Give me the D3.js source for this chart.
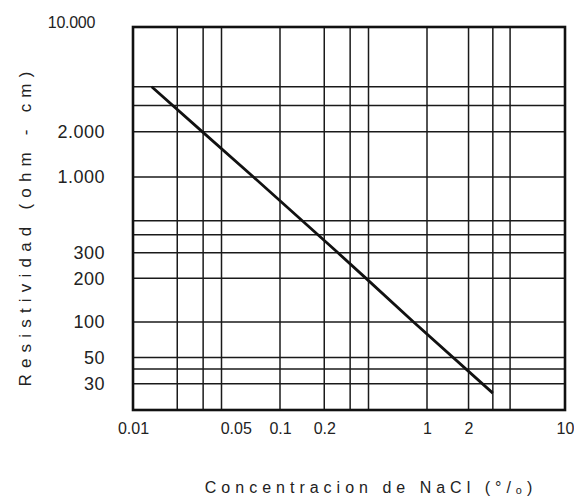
<!DOCTYPE html>
<html><head><meta charset="utf-8">
<script src="https://cdn.jsdelivr.net/npm/d3@7"></script>
<style>body{margin:0;background:#fff}svg{display:block;font-family:"Liberation Sans",Arial,sans-serif}</style>
</head><body><svg id="c" width="574" height="500"></svg>
<script>
// Data
const xGrid = [0.02, 0.03, 0.04, 0.1, 0.2, 0.3, 0.4, 1, 2, 3, 4];
const yGrid = [30, 40, 50, 100, 200, 300, 400, 500, 1000, 2000, 3000, 4000];
const xTickValues = [0.01, 0.05, 0.1, 0.2, 1, 2, 10];
const xTickLabels = ["0.01", "0.05", "0.1", "0.2", "1", "2", "10"];
const yTickValues = [30, 50, 100, 200, 300, 1000, 2000, 10000];
const yTickLabels = ["30", "50", "100", "200", "300", "1.000", "2.000", "10.000"];
const concentration = [0.0134, 0.0297, 0.066, 0.248, 0.385, 0.81, 3.0];
const resistivity = [4000, 2000, 1000, 300, 200, 100, 25];

const svg = d3.select("#c");
// hand-drawn log paper: piecewise log scales calibrated per decade
const x = d3.scaleLog().domain([0.01, 0.1, 1, 10]).range([133, 280, 427, 565]);
const y = d3.scaleLog().domain([18, 100, 1000, 10000]).range([410, 322, 177, 27]);
const [x0, x1] = [x(0.01), x(10)];
const [y0, y1] = [y(18), y(10000)];

svg.append("rect").attr("width", 574).attr("height", 500).attr("fill", "#fff");

const g = svg.append("g").attr("stroke", "#1a1a1a").attr("stroke-width", 1.5);
g.selectAll(".vx").data(xGrid).join("line")
  .attr("x1", d => x(d)).attr("x2", d => x(d)).attr("y1", y0).attr("y2", y1);
g.selectAll(".hy").data(yGrid).join("line")
  .attr("y1", d => y(d)).attr("y2", d => y(d)).attr("x1", x0).attr("x2", x1);

svg.append("rect").attr("x", x0).attr("y", y1).attr("width", x1 - x0).attr("height", y0 - y1)
  .attr("fill", "none").attr("stroke", "#111").attr("stroke-width", 2.6);

// curve
const pts = concentration.map((c, i) => [c, resistivity[i]]);
svg.append("path").datum(pts)
  .attr("d", d3.line().x(d => x(d[0])).y(d => y(d[1])))
  .attr("fill", "none").attr("stroke", "#111").attr("stroke-width", 2.8);

// axes labels
const ax = svg.append("g").attr("transform", `translate(0,${y0})`)
  .call(d3.axisBottom(x).tickValues(xTickValues).tickSize(0).tickPadding(13)
    .tickFormat((d, i) => xTickLabels[i]));
ax.select(".domain").remove();
ax.selectAll("text").attr("font-size", 16).attr("fill", "#222").attr("font-family", "Liberation Sans, Arial, sans-serif");

const ay = svg.append("g").attr("transform", `translate(${x0},0)`)
  .call(d3.axisLeft(y).tickValues(yTickValues).tickSize(0).tickPadding(28)
    .tickFormat((d, i) => yTickLabels[i]));
ay.select(".domain").remove();
ay.selectAll("text").attr("font-size", 18).attr("fill", "#222").attr("font-family", "Liberation Sans, Arial, sans-serif")
  .attr("letter-spacing", 0.5);
ay.selectAll(".tick").filter(d => d === 10000).select("text")
  .attr("font-size", 16).attr("letter-spacing", -0.3).attr("dx", -10).attr("dy", "0.05em");

svg.append("text").attr("x", 371).attr("y", 493).attr("text-anchor", "middle")
  .attr("font-size", 16).attr("letter-spacing", 5).attr("fill", "#222")
  .text("Concentracion de NaCl (°/ₒ)");

svg.append("text").attr("transform", "translate(31,226) rotate(-90)").attr("text-anchor", "middle")
  .attr("font-size", 17).attr("letter-spacing", 6.2).attr("fill", "#222")
  .text("Resistividad (ohm - cm)");
</script></body></html>
